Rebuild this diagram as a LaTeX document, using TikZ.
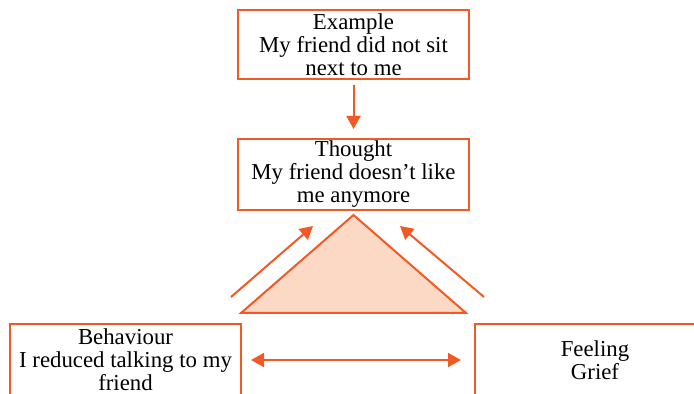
\documentclass[tikz,border=0pt]{standalone}
\usepackage{fontspec}
\setmainfont{Liberation Serif}
\usetikzlibrary{
    arrows.meta,
    positioning
}
\definecolor{cbtorange}{RGB}{241,90,36}
\definecolor{cbtpeach}{RGB}{252,217,197}
\tikzset{
    cbtbox/.style={draw=cbtorange, line width=1pt, align=center, inner sep=0pt,
        minimum width=115.5pt, font=\fontsize{11.4}{11.5}\selectfont},
    cbtarrow/.style={draw=cbtorange, line width=1pt,
        -{Triangle[width=7pt,length=6.5pt]}},
}

\begin{document}
\begin{tikzpicture}[x=0.5pt, y=-0.5pt]
    \useasboundingbox (0,0) rectangle (694,394);

    % boxes
    \node[cbtbox, minimum height=34.5pt] (example) at (353.5,44.5)
        {Example\\ My friend did not sit\\ next to me};
    \node[cbtbox, minimum height=35.5pt] (thought) at (353.5,174.5)
        {Thought\\ My friend doesn't like\\ me anymore};
    \node[cbtbox, minimum height=36pt] (behaviour) at (125.5,360)
        {Behaviour\\ I reduced talking to my\\ friend};
    \node[cbtbox, minimum width=120pt, minimum height=36pt] (feeling) at (595,360)
        {Feeling\\ Grief};

    % triangle
    \coordinate (apex) at (353.5,215);
    \coordinate (baseL) at (241,313);
    \coordinate (baseR) at (466,313);
    \filldraw[fill=cbtpeach, draw=cbtorange, line width=1pt]
        (apex) -- (baseL) -- (baseR) -- cycle;

    % arrows
    \coordinate (leftFrom) at (231,297);
    \coordinate (leftTo) at (313,226);
    \coordinate (rightFrom) at (484,297);
    \coordinate (rightTo) at (400,226);
    \draw[cbtarrow, shorten <=2.5pt, shorten >=4.5pt] (example) -- (thought);
    \draw[cbtarrow] (leftFrom) -- (leftTo);
    \draw[cbtarrow] (rightFrom) -- (rightTo);
    \draw[cbtarrow, {Triangle[width=7pt,length=6.5pt]}-{Triangle[width=7pt,length=6.5pt]},
        shorten <=4.5pt, shorten >=6.5pt] (behaviour.east) -- (feeling.west);
\end{tikzpicture}
\end{document}
